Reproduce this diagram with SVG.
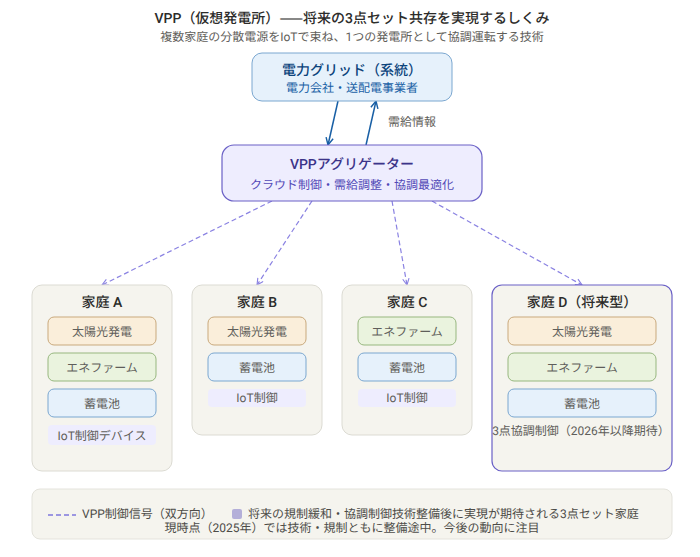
<svg xmlns="http://www.w3.org/2000/svg" width="700" height="557" viewBox="0 0 700 557">
<defs>
<style>
text{font-family:"Roboto","Noto Sans CJK JP",sans-serif;text-anchor:middle;fill:#5f5e5a;font-size:12px;text-rendering:geometricPrecision}
.title{font-size:14px;font-weight:500;fill:#2c2c2a}
.cjk{font-family:"Noto Sans CJK JP",sans-serif}
.sub{font-size:12px;fill:#5f5e5a}
.h{font-size:14px;font-weight:500;fill:#2c2c2a}
.house{fill:#f5f4ee;stroke:#dcdbd3;stroke-width:1}
.sol{fill:#faeeda;stroke:#c9a97c;stroke-width:1}
.ene{fill:#eaf3de;stroke:#97b77f;stroke-width:1}
.bat{fill:#e6f1fb;stroke:#7ba7d0;stroke-width:1}
.iot{fill:#eeedfe}
.l{font-size:12px;text-anchor:start;fill:#4d4c48}
.solid{stroke:#185fa5;stroke-width:1.5;fill:none;marker-end:url(#b)}
.dash{stroke:#8a82e2;stroke-width:1.2;stroke-dasharray:5 3;fill:none;marker-end:url(#p)}
.acc{stroke:#6a60c6;stroke-width:1.2}
</style>
<marker id="b" viewBox="0 0 10 10" refX="9" refY="5" markerWidth="9" markerHeight="9" markerUnits="userSpaceOnUse" orient="auto"><path d="M1 1L9 5L1 9" fill="none" stroke="#185fa5" stroke-width="1.6"/></marker>
<marker id="p" viewBox="0 0 10 10" refX="9" refY="5" markerWidth="8" markerHeight="8" markerUnits="userSpaceOnUse" orient="auto"><path d="M1 1L9 5L1 9" fill="none" stroke="#8a82e2" stroke-width="1.4"/></marker>
</defs>
<rect width="700" height="557" fill="#ffffff"/>
<text class="title" x="352" y="23">VPP（仮想発電所）<tspan class="cjk">——</tspan>将来の3点セット共存を実現するしくみ</text>
<text class="sub" x="352" y="41">複数家庭の分散電源をIoTで束ね、1つの発電所として協調運転する技術</text>
<g id="connectors">
<path class="solid" d="M338 101L328 145"/>
<path class="solid" d="M366 145L376 101"/>
<path class="dash" d="M272 201L102 285"/>
<path class="dash" d="M312 201L257 285"/>
<path class="dash" d="M392 201L407 285"/>
<path class="dash" d="M432 201L582 285"/>
</g>
<text id="label-demand" x="412" y="126">需給情報</text>
<g id="grid">
<rect x="252" y="53" width="200" height="48" rx="10" fill="#e6f1fb" stroke="#7ba7d0"/>
<text x="352" y="75" style="font-size:14px;font-weight:500;fill:#0c447c">電力グリッド（系統）</text>
<text x="352" y="92" style="fill:#185fa5">電力会社・送配電事業者</text>
</g>
<g id="aggregator">
<rect class="acc" x="222" y="145" width="260" height="56" rx="12" fill="#eeedfe"/>
<text x="352" y="169" style="font-size:14px;font-weight:500;fill:#3c3489">VPPアグリゲーター</text>
<text x="352" y="189" style="fill:#534ab7">クラウド制御・需給調整・協調最適化</text>
</g>
<g id="home-a">
<rect class="house" x="32" y="285" width="140" height="186" rx="10"/>
<text class="h" x="102" y="307">家庭 A</text>
<rect class="sol" x="48" y="317" width="108" height="28" rx="6"/><text x="102" y="336">太陽光発電</text>
<rect class="ene" x="48" y="353" width="108" height="28" rx="6"/><text x="102" y="372">エネファーム</text>
<rect class="bat" x="48" y="389" width="108" height="28" rx="6"/><text x="102" y="408">蓄電池</text>
<rect class="iot" x="48" y="425" width="108" height="20" rx="4"/><text x="102" y="440">IoT制御デバイス</text>
</g>
<g id="home-b">
<rect class="house" x="192" y="285" width="130" height="150" rx="10"/>
<text class="h" x="257" y="307">家庭 B</text>
<rect class="sol" x="208" y="317" width="98" height="28" rx="6"/><text x="257" y="336">太陽光発電</text>
<rect class="bat" x="208" y="353" width="98" height="28" rx="6"/><text x="257" y="372">蓄電池</text>
<rect class="iot" x="208" y="389" width="98" height="18" rx="4"/><text x="257" y="402">IoT制御</text>
</g>
<g id="home-c">
<rect class="house" x="342" y="285" width="130" height="150" rx="10"/>
<text class="h" x="407" y="307">家庭 C</text>
<rect class="ene" x="358" y="317" width="98" height="28" rx="6"/><text x="407" y="336">エネファーム</text>
<rect class="bat" x="358" y="353" width="98" height="28" rx="6"/><text x="407" y="372">蓄電池</text>
<rect class="iot" x="358" y="389" width="98" height="18" rx="4"/><text x="407" y="402">IoT制御</text>
</g>
<g id="home-d">
<rect class="acc" x="492" y="285" width="180" height="186" rx="10" fill="#f5f4ee"/>
<text class="h" x="582" y="307">家庭 D（将来型）</text>
<rect class="sol" x="508" y="317" width="148" height="28" rx="6"/><text x="582" y="336">太陽光発電</text>
<rect class="ene" x="508" y="353" width="148" height="28" rx="6"/><text x="582" y="372">エネファーム</text>
<rect class="bat" x="508" y="389" width="148" height="28" rx="6"/><text x="582" y="408">蓄電池</text>
<text x="581" y="435">3点協調制御（2026年以降期待）</text>
</g>
<g id="legend">
<rect x="32" y="489" width="640" height="50" rx="8" fill="#f5f4ee" stroke="#e4e3dc"/>
<path d="M48 515H76" stroke="#7f77dd" stroke-width="1.5" stroke-dasharray="5 3" fill="none"/>
<text class="l" x="82" y="518">VPP制御信号（双方向）</text>
<rect x="232" y="509" width="10" height="10" rx="2" fill="#b4afd9"/>
<text class="l" x="248" y="518">将来の規制緩和・協調制御技術整備後に実現が期待される3点セット家庭</text>
<text x="352" y="532" style="fill:#4d4c48">現時点（2025年）では技術・規制ともに整備途中。今後の動向に注目</text>
</g>
</svg>
